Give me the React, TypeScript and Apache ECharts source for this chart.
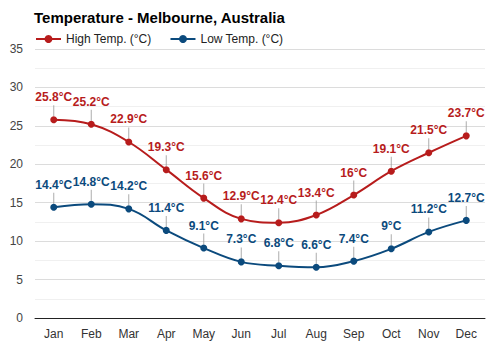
import React, { useEffect, useRef } from "react";
import * as echarts from "echarts";

const months = ["Jan", "Feb", "Mar", "Apr", "May", "Jun", "Jul", "Aug", "Sep", "Oct", "Nov", "Dec"];
const highTemps = [25.8, 25.2, 22.9, 19.3, 15.6, 12.9, 12.4, 13.4, 16, 19.1, 21.5, 23.7];
const lowTemps = [14.4, 14.8, 14.2, 11.4, 9.1, 7.3, 6.8, 6.6, 7.4, 9, 11.2, 12.7];

const RED = "#b71c1c";
const BLUE = "#0b4a7d";

export default function App() {
  const ref = useRef<HTMLDivElement>(null);
  useEffect(() => {
    if (!ref.current) return;
    const chart = echarts.init(ref.current, undefined, { renderer: "svg" });
    const fmt = (p: any) => `${p.value}°C`;
    const leader = (data: number[], name: string) => ({
      name: name + "-leader",
      type: "scatter",
      data,
      symbol: "rect",
      symbolSize: [1, 11],
      symbolOffset: [0, -9],
      itemStyle: { color: "#999999" },
      silent: true,
      z: 1,
    });
    chart.setOption({
      animation: false,
      textStyle: { fontFamily: "Liberation Sans, Arial, sans-serif" },
      title: {
        text: "Temperature - Melbourne, Australia",
        left: 29,
        top: 5,
        textStyle: { fontSize: 15, fontWeight: "bold", color: "#000", fontFamily: "Liberation Sans, Arial, sans-serif" },
      },
      legend: {
        left: 30,
        top: 28,
        itemWidth: 25,
        itemHeight: 10,
        itemGap: 18,
        data: ["High Temp. (°C)", "Low Temp. (°C)"],
        textStyle: { fontSize: 12, color: "#222", fontFamily: "Liberation Sans, Arial, sans-serif" },
      },
      grid: { left: 35, right: 15, top: 49, bottom: 32 },
      xAxis: {
        type: "category",
        data: months,
        boundaryGap: true,
        axisLine: { lineStyle: { color: "#222", width: 1 } },
        axisTick: { show: false },
        axisLabel: { color: "#333", fontSize: 12, margin: 10 },
      },
      yAxis: {
        type: "value",
        min: 0,
        max: 35,
        interval: 5,
        axisLine: { show: false },
        axisTick: { show: false },
        axisLabel: { color: "#444", fontSize: 12, margin: 12 },
        splitLine: { lineStyle: { color: "#dcdcdc" } },
        minorTick: { show: false, splitNumber: 2 },
        minorSplitLine: { show: true, lineStyle: { color: "#f0f0f0" } },
      },
      series: [
        leader(highTemps, "high"),
        leader(lowTemps, "low"),
        {
          name: "High Temp. (°C)",
          type: "line",
          data: highTemps,
          smooth: 0.4,
          symbol: "circle",
          symbolSize: 7,
          itemStyle: { color: RED },
          lineStyle: { color: RED, width: 2 },
          label: { show: true, position: "top", distance: 13, formatter: fmt, color: RED, fontWeight: "bold", fontSize: 12 },
          z: 3,
        },
        {
          name: "Low Temp. (°C)",
          type: "line",
          data: lowTemps,
          smooth: 0.4,
          symbol: "circle",
          symbolSize: 7,
          itemStyle: { color: BLUE },
          lineStyle: { color: BLUE, width: 2 },
          label: { show: true, position: "top", distance: 13, formatter: fmt, color: BLUE, fontWeight: "bold", fontSize: 12 },
          z: 3,
        },
      ],
    });
    return () => chart.dispose();
  }, []);
  return <div ref={ref} style={{ width: 500, height: 350, position: "absolute", left: 0, top: 0 }} />;
}
